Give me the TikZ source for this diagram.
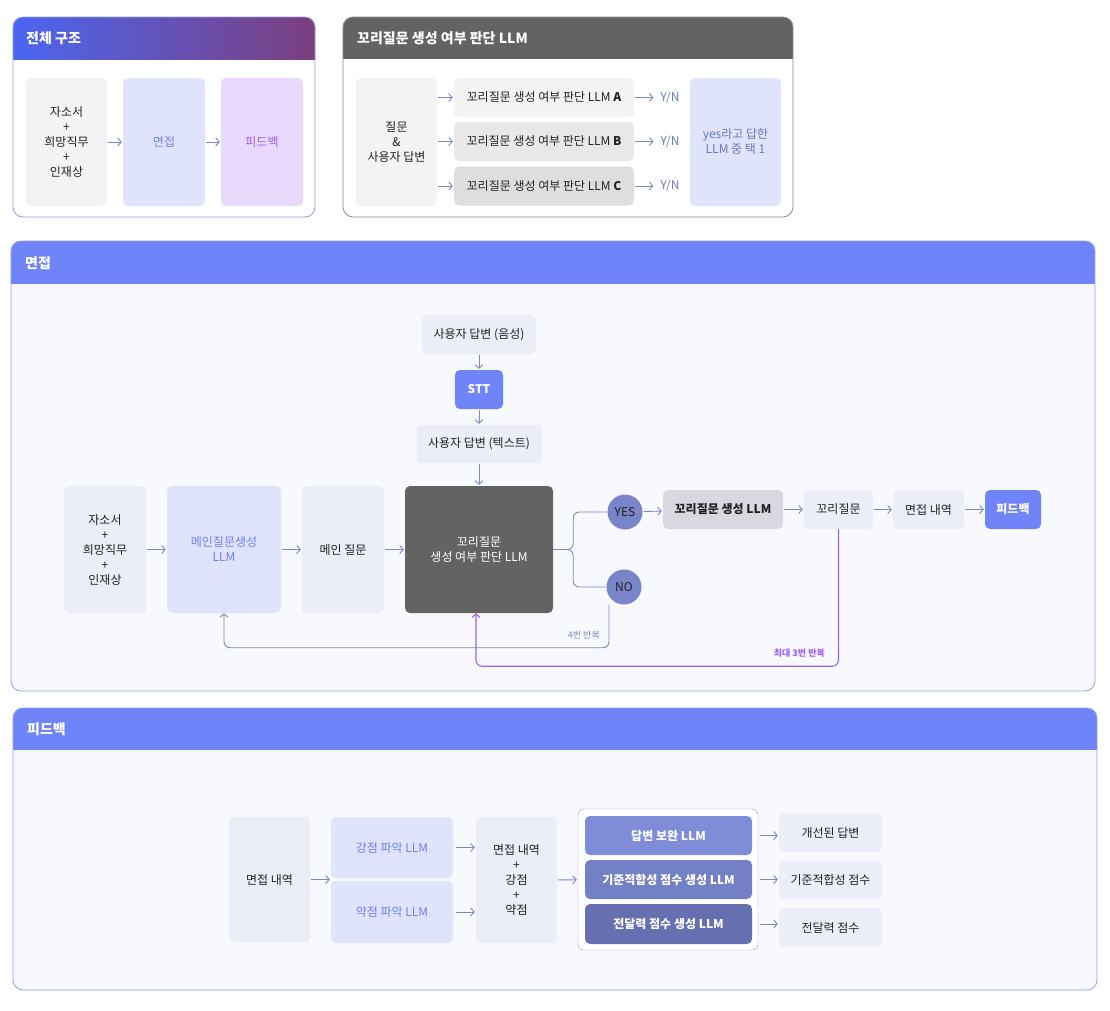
\documentclass[tikz,border=0pt]{standalone}
\usepackage{fontspec}
\setmainfont{Noto Sans CJK KR}
\usetikzlibrary{arrows.meta}

\definecolor{ink}{HTML}{222222}
\definecolor{linkc}{HTML}{7C86C4}
\definecolor{headblue}{HTML}{6F84F8}
\definecolor{headgray}{HTML}{636363}
\definecolor{gradL}{HTML}{4B66F2}
\definecolor{gradR}{HTML}{7C3F7E}
\definecolor{framec}{HTML}{8F9CF5}
\definecolor{framegray}{HTML}{8A8A8A}
\definecolor{bodyc}{HTML}{F8F9FE}
\definecolor{greyA}{HTML}{F3F3F3}
\definecolor{greyB}{HTML}{E8E8E8}
\definecolor{greyC}{HTML}{DEDEDE}
\definecolor{lavbox}{HTML}{EBEDF7}
\definecolor{bluebox}{HTML}{DFE3FC}
\definecolor{bluetext}{HTML}{6F80F0}
\definecolor{purbox}{HTML}{E9DAFD}
\definecolor{purtext}{HTML}{A35CF0}
\definecolor{loopc}{HTML}{A062F2}
\definecolor{circc}{HTML}{7A84C8}
\definecolor{tailbox}{HTML}{D8D8E0}
\definecolor{yestext}{HTML}{6B78B8}
\definecolor{llmA}{HTML}{7F8CD8}
\definecolor{llmB}{HTML}{7480C6}
\definecolor{llmC}{HTML}{6670B0}

\newcommand\bodyfont{\fontsize{12}{15}\selectfont}
\newcommand\titlefont{\fontsize{14}{17}\selectfont\bfseries}
\newcommand\tinyfont{\fontsize{9}{11}\selectfont}

\tikzset{
  box/.style={rounded corners=5, inner sep=0pt, align=center, text=ink, font=\bodyfont},
  title/.style={anchor=west, text=white, font=\titlefont, inner sep=0pt},
  panel/.style={rounded corners=10, line width=0.8pt},
  flow/.style={draw=linkc, line width=0.9pt, -{Straight Barb[length=3.5pt,width=8pt]}, shorten <=1pt, shorten >=1pt},
  link/.style={draw=linkc, line width=0.9pt, rounded corners=6},
  loopback/.style={draw=loopc, line width=1.1pt, rounded corners=6, -{Straight Barb[length=3.5pt,width=8pt]}},
  yn/.style={text=yestext, font=\bodyfont, inner sep=2pt},
  answer/.style={circle, fill=circc, minimum size=35, inner sep=0pt, text=ink, font=\bodyfont}
}

\begin{document}
\begin{tikzpicture}[x=1pt, y=-1pt]
\useasboundingbox[fill=white] (0,0) rectangle (1110,1010);

% panel: overall structure
\begin{scope}
\clip[rounded corners=10] (13,17) rectangle (315,217);
\fill[white] (13,17) rectangle (315,217);
\shade[left color=gradL, right color=gradR] (13,17) rectangle (315,59);
\end{scope}
\draw[panel, framec] (13,17) rectangle (315,217);
\node[title] (t1) at (26,38) {전체 구조};

\node[box, fill=greyA, minimum width=81, minimum height=128] (cv) at (66.5,142) {자소서\\+\\희망직무\\+\\인재상};
\node[box, fill=bluebox, text=bluetext, minimum width=82, minimum height=128] (iv) at (164,142) {면접};
\node[box, fill=purbox, text=purtext, minimum width=82, minimum height=128] (fb) at (262,142) {피드백};
\draw[flow] (cv) -- (iv);
\draw[flow] (iv) -- (fb);

% panel: tail question judge
\begin{scope}
\clip[rounded corners=10] (343,17) rectangle (793,217);
\fill[white] (343,17) rectangle (793,217);
\fill[headgray] (343,17) rectangle (793,59);
\end{scope}
\draw[panel, framegray] (343,17) rectangle (793,217);
\node[title] (t2) at (357,38) {꼬리질문 생성 여부 판단 LLM};

\node[box, fill=greyA, minimum width=81, minimum height=128] (qa) at (396.5,142) {질문\\\&\\사용자 답변};
\node[box, fill=greyA, minimum width=180, minimum height=39] (jA) at (544,97.5) {꼬리질문 생성 여부 판단 LLM \textbf{A}};
\node[box, fill=greyB, minimum width=180, minimum height=39] (jB) at (544,141.5) {꼬리질문 생성 여부 판단 LLM \textbf{B}};
\node[box, fill=greyC, minimum width=180, minimum height=39] (jC) at (544,186) {꼬리질문 생성 여부 판단 LLM \textbf{C}};
\node[yn] (ynA) at (670,97.5) {Y/N};
\node[yn] (ynB) at (670,141.5) {Y/N};
\node[yn] (ynC) at (670,186) {Y/N};
\node[box, fill=bluebox, text=yestext, minimum width=91, minimum height=128] (pick) at (735.5,142) {yes라고 답한\\LLM 중 택 1};
\foreach \j in {A,B,C} {
  \draw[flow] (qa.east |- j\j.west) -- (j\j.west);
  \draw[flow, shorten >=5pt] (j\j) -- (yn\j);
}

% panel: interview
\begin{scope}
\clip[rounded corners=10] (11,241) rectangle (1095,691);
\fill[bodyc] (11,241) rectangle (1095,691);
\fill[headblue] (11,241) rectangle (1095,284);
\end{scope}
\draw[panel, framec] (11,241) rectangle (1095,691);
\node[title] (t3) at (25,263) {면접};

\node[box, fill=lavbox, minimum width=114, minimum height=39] (voice) at (479,334.5) {사용자 답변 (음성)};
\node[box, fill=headblue, text=white, font=\bodyfont\bfseries, minimum width=48, minimum height=39] (stt) at (479,389.5) {STT};
\node[box, fill=lavbox, minimum width=125, minimum height=38] (textans) at (479,444) {사용자 답변 (텍스트)};
\node[box, fill=lavbox, minimum width=82, minimum height=127] (docs) at (105,549.5) {자소서\\+\\희망직무\\+\\인재상};
\node[box, fill=bluebox, text=bluetext, minimum width=114, minimum height=127] (mainllm) at (224,549.5) {메인질문생성\\LLM};
\node[box, fill=lavbox, minimum width=82, minimum height=127] (mainq) at (343,549.5) {메인 질문};
\node[box, fill=headgray, text=white, minimum width=148, minimum height=127] (judge) at (479,549.5) {꼬리질문\\생성 여부 판단 LLM};
\node[answer] (yes) at (625,512) {YES};
\node[answer] (no) at (624,587) {NO};
\node[box, fill=tailbox, font=\bodyfont\bfseries, minimum width=120, minimum height=39] (tailgen) at (723,509.5) {꼬리질문 생성 LLM};
\node[box, fill=lavbox, minimum width=69, minimum height=39] (tail) at (838.5,509.5) {꼬리질문};
\node[box, fill=lavbox, minimum width=71, minimum height=39] (record) at (928.5,509.5) {면접 내역};
\node[box, fill=headblue, text=white, font=\bodyfont\bfseries, minimum width=56, minimum height=39] (fbbox) at (1013,509.5) {피드백};

\draw[flow] (voice) -- (stt);
\draw[flow] (stt) -- (textans);
\draw[flow] (textans) -- (judge);
\draw[flow] (docs) -- (mainllm);
\draw[flow] (mainllm) -- (mainq);
\draw[flow] (mainq) -- (judge);
\draw[link] (judge.east) -- ++(20,0) |- (yes.west);
\draw[link] (judge.east) -- ++(20,0) |- (no.west);
\draw[flow] (yes) -- (tailgen);
\draw[flow] (tailgen) -- (tail);
\draw[flow] (tail) -- (record);
\draw[flow] (record) -- (fbbox);
\draw[link, -{Straight Barb[length=3.5pt,width=8pt]}] ([xshift=-15pt]no.south) -- ++(0,43) -| (mainllm.south);
\node[text=linkc, font=\tinyfont, anchor=east, inner sep=0pt] (four) at (600,635) {4번 반복};
\draw[loopback] (tail.south) -- ++(0,137) -| ([xshift=-3pt]judge.south);
\node[text=loopc, font=\tinyfont\bfseries, anchor=east, inner sep=0pt] (three) at (825,653) {최대 3번 반복};

% panel: feedback
\begin{scope}
\clip[rounded corners=10] (13,708) rectangle (1097,990);
\fill[bodyc] (13,708) rectangle (1097,990);
\fill[headblue] (13,708) rectangle (1097,750);
\end{scope}
\draw[panel, framec] (13,708) rectangle (1097,990);
\node[title] (t4) at (27,729) {피드백};

\node[box, fill=lavbox, minimum width=81, minimum height=125] (fbin) at (269.5,879.5) {면접 내역};
\node[box, fill=bluebox, text=bluetext, minimum width=122, minimum height=61] (strong) at (392,847.5) {강점 파악 LLM};
\node[box, fill=bluebox, text=bluetext, minimum width=122, minimum height=62] (weak) at (392,912) {약점 파악 LLM};
\node[box, fill=lavbox, minimum width=81, minimum height=126] (summary) at (516.5,880) {면접 내역\\+\\강점\\+\\약점};
\node[draw=framec, fill=white, rounded corners=6, minimum width=180, minimum height=141] (grp) at (668,879.5) {};
\node[box, fill=llmA, text=white, font=\bodyfont\bfseries, minimum width=167, minimum height=39] (fix) at (668.5,835.5) {답변 보완 LLM};
\node[box, fill=llmB, text=white, font=\bodyfont\bfseries, minimum width=167, minimum height=39] (fitllm) at (668.5,879.5) {기준적합성 점수 생성 LLM};
\node[box, fill=llmC, text=white, font=\bodyfont\bfseries, minimum width=167, minimum height=40] (deliv) at (668.5,924) {전달력 점수 생성 LLM};
\node[box, fill=lavbox, minimum width=103, minimum height=39] (better) at (830.5,832.5) {개선된 답변};
\node[box, fill=lavbox, minimum width=103, minimum height=38] (fitscore) at (830.5,880) {기준적합성 점수};
\node[box, fill=lavbox, minimum width=103, minimum height=39] (delscore) at (830.5,927.5) {전달력 점수};

\draw[flow] (fbin.east) -- (fbin.east -| strong.south west);
\draw[flow, shorten <=3pt] (strong) -- (summary.west |- strong);
\draw[flow, shorten <=3pt] (weak) -- (summary.west |- weak);
\draw[flow] (summary) -- (grp);
\draw[flow, shorten <=8pt] (fix) -- (better.west |- fix);
\draw[flow, shorten <=8pt] (fitllm) -- (fitscore.west |- fitllm);
\draw[flow, shorten <=8pt] (deliv) -- (delscore.west |- deliv);
\end{tikzpicture}
\end{document}
